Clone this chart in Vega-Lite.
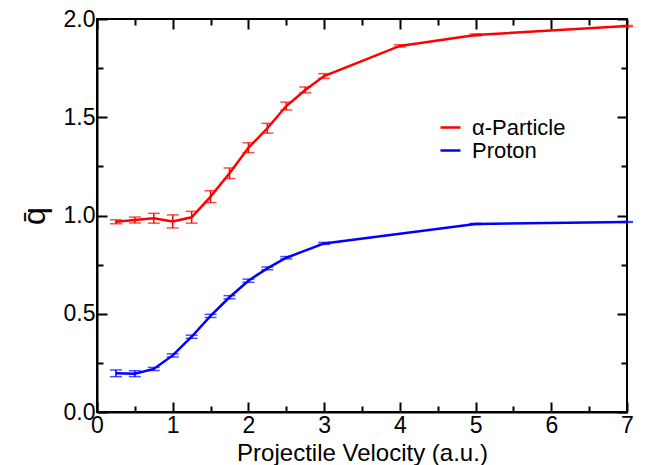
{
  "$schema": "https://vega.github.io/schema/vega-lite/v6.json",
  "width": 530,
  "height": 393,
  "autosize": {"type": "none"},
  "padding": {"left": 97, "top": 19, "right": 19, "bottom": 53},
  "background": "white",
  "config": {
    "font": "Liberation Sans",
    "view": {"stroke": "black", "strokeWidth": 2},
    "axis": {
      "domainColor": "black",
      "domainWidth": 2,
      "tickColor": "black",
      "tickWidth": 2,
      "grid": false,
      "labelFont": "Liberation Sans",
      "labelColor": "black",
      "labelFontSize": 23,
      "titleFont": "Liberation Sans",
      "titleColor": "black",
      "titleFontWeight": "normal"
    }
  },
  "data": {
    "values": [
      {"series": "α-Particle", "v": 0.25, "q": 0.968, "lo": 0.958, "hi": 0.978},
      {"series": "α-Particle", "v": 0.5, "q": 0.977, "lo": 0.962, "hi": 0.992},
      {"series": "α-Particle", "v": 0.75, "q": 0.986, "lo": 0.961, "hi": 1.011},
      {"series": "α-Particle", "v": 1.0, "q": 0.970, "lo": 0.937, "hi": 1.003},
      {"series": "α-Particle", "v": 1.25, "q": 0.991, "lo": 0.961, "hi": 1.021},
      {"series": "α-Particle", "v": 1.5, "q": 1.096, "lo": 1.066, "hi": 1.126},
      {"series": "α-Particle", "v": 1.75, "q": 1.215, "lo": 1.188, "hi": 1.242},
      {"series": "α-Particle", "v": 2.0, "q": 1.345, "lo": 1.32, "hi": 1.37},
      {"series": "α-Particle", "v": 2.25, "q": 1.444, "lo": 1.419, "hi": 1.469},
      {"series": "α-Particle", "v": 2.5, "q": 1.557, "lo": 1.537, "hi": 1.577},
      {"series": "α-Particle", "v": 2.75, "q": 1.639, "lo": 1.624, "hi": 1.654},
      {"series": "α-Particle", "v": 3.0, "q": 1.71, "lo": 1.698, "hi": 1.722},
      {"series": "α-Particle", "v": 4.0, "q": 1.863, "lo": 1.857, "hi": 1.869},
      {"series": "α-Particle", "v": 5.0, "q": 1.919, "lo": 1.914, "hi": 1.924},
      {"series": "α-Particle", "v": 7.0, "q": 1.964, "lo": 1.961, "hi": 1.967},
      {"series": "Proton", "v": 0.25, "q": 0.197, "lo": 0.18, "hi": 0.214},
      {"series": "Proton", "v": 0.5, "q": 0.195, "lo": 0.18, "hi": 0.21},
      {"series": "Proton", "v": 0.75, "q": 0.219, "lo": 0.211, "hi": 0.227},
      {"series": "Proton", "v": 1.0, "q": 0.288, "lo": 0.28, "hi": 0.296},
      {"series": "Proton", "v": 1.25, "q": 0.383, "lo": 0.375, "hi": 0.391},
      {"series": "Proton", "v": 1.5, "q": 0.489, "lo": 0.481, "hi": 0.497},
      {"series": "Proton", "v": 1.75, "q": 0.584, "lo": 0.576, "hi": 0.592},
      {"series": "Proton", "v": 2.0, "q": 0.668, "lo": 0.66, "hi": 0.676},
      {"series": "Proton", "v": 2.25, "q": 0.731, "lo": 0.724, "hi": 0.738},
      {"series": "Proton", "v": 2.5, "q": 0.785, "lo": 0.779, "hi": 0.791},
      {"series": "Proton", "v": 3.0, "q": 0.858, "lo": 0.853, "hi": 0.863},
      {"series": "Proton", "v": 5.0, "q": 0.957, "lo": 0.954, "hi": 0.96},
      {"series": "Proton", "v": 7.0, "q": 0.967, "lo": 0.965, "hi": 0.969}
    ]
  },
  "resolve": {"axis": {"x": "independent", "y": "independent"}},
  "layer": [
    {
      "mark": {"type": "line", "strokeWidth": 2.5, "clip": true},
      "encoding": {
        "x": {
          "field": "v", "type": "quantitative",
          "scale": {"domain": [0, 7], "nice": false},
          "axis": {
            "orient": "bottom",
            "values": [0, 0.5, 1, 1.5, 2, 2.5, 3, 3.5, 4, 4.5, 5, 5.5, 6, 6.5, 7],
            "labelExpr": "datum.value % 1 === 0 ? format(datum.value, 'd') : ''",
            "tickSize": {"condition": {"test": "datum.value % 1 === 0", "value": -10}, "value": -6},
            "labelPadding": 12,
            "labelFlush": false,
            "labelOverlap": false,
            "title": "Projectile Velocity (a.u.)",
            "titleFontSize": 24,
            "titleBaseline": "alphabetic",
            "titleY": 48
          }
        },
        "y": {
          "field": "q", "type": "quantitative",
          "scale": {"domain": [0, 2], "nice": false},
          "axis": {
            "orient": "left",
            "values": [0, 0.25, 0.5, 0.75, 1, 1.25, 1.5, 1.75, 2],
            "labelExpr": "datum.value % 0.5 === 0 ? format(datum.value, '.1f') : ''",
            "tickSize": {"condition": {"test": "datum.value % 0.5 === 0", "value": -10}, "value": -6},
            "labelPadding": 12,
            "labelFlush": false,
            "labelOverlap": false,
            "title": "q\u0304",
            "titleFontSize": 32,
            "titlePadding": 12
          }
        },
        "color": {
          "field": "series", "type": "nominal",
          "scale": {"domain": ["α-Particle", "Proton"], "range": ["#ff0000", "#0000ff"]},
          "legend": {
            "title": null,
            "orient": "none",
            "legendX": 342,
            "legendY": 97,
            "symbolType": "stroke",
            "symbolSize": 400,
            "symbolStrokeWidth": 2.5,
            "labelFontSize": 22,
            "labelFont": "Liberation Sans",
            "labelColor": "black",
            "labelOffset": 10,
            "rowPadding": 0,
            "labelExpr": "datum.label === 'α-Particle' ? '\u00a0α-Particle' : datum.label"
          }
        }
      }
    },
    {
      "mark": {"type": "errorbar", "ticks": {"size": 12, "thickness": 1.5}, "rule": {"strokeWidth": 1.5}},
      "encoding": {
        "x": {
          "field": "v", "type": "quantitative",
          "scale": {"domain": [0, 7], "nice": false},
          "axis": {
            "orient": "top",
            "values": [0, 0.5, 1, 1.5, 2, 2.5, 3, 3.5, 4, 4.5, 5, 5.5, 6, 6.5, 7],
            "labels": false,
            "domain": false,
            "tickSize": {"condition": {"test": "datum.value % 1 === 0", "value": -10}, "value": -6},
            "title": null
          }
        },
        "y": {
          "field": "lo", "type": "quantitative",
          "scale": {"domain": [0, 2], "nice": false},
          "axis": {
            "orient": "right",
            "values": [0, 0.25, 0.5, 0.75, 1, 1.25, 1.5, 1.75, 2],
            "labels": false,
            "domain": false,
            "tickSize": {"condition": {"test": "datum.value % 0.5 === 0", "value": -10}, "value": -6},
            "title": null
          }
        },
        "y2": {"field": "hi"},
        "color": {"field": "series", "type": "nominal", "legend": null}
      }
    }
  ]
}
